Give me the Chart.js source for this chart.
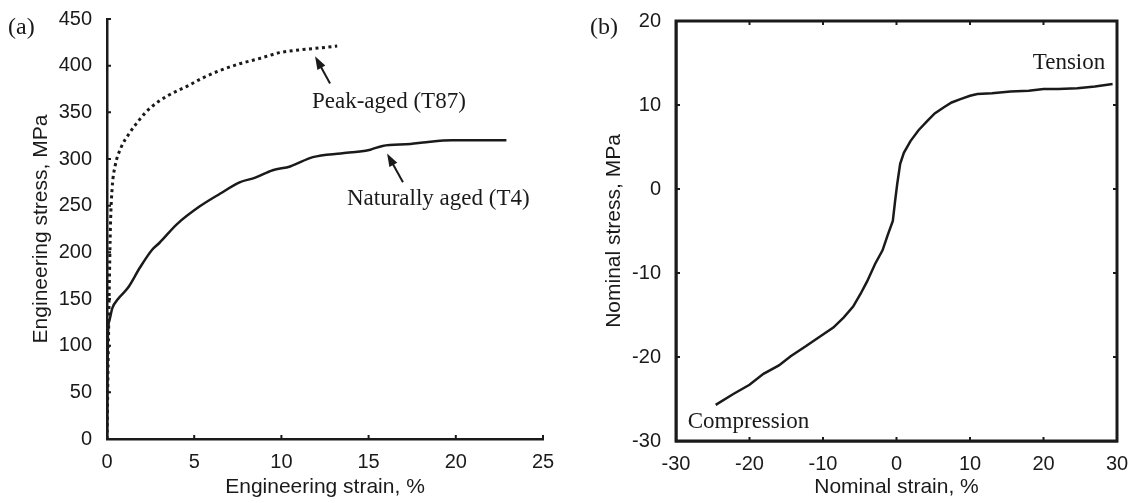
<!DOCTYPE html>
<html>
<head>
<meta charset="utf-8">
<script src="https://cdn.jsdelivr.net/npm/chart.js@4"></script>
<style>
  body { margin: 0; background: #fff; }
  #wrap { position: relative; width: 1134px; height: 503px; }
  canvas { position: absolute; top: 0; }
  .panel { position: absolute; font: 24px "Liberation Serif", serif; color: #1a1a1a; line-height: 1; }
</style>
</head>
<body>
<div id="wrap">
  <canvas id="chartA" width="567" height="503" style="left:0"></canvas>
  <canvas id="chartB" width="567" height="503" style="left:567px"></canvas>
  <div class="panel" style="left:8px;top:14px">(a)</div>
  <div class="panel" style="left:590px;top:14px">(b)</div>
</div>
<script>
// (a) engineering stress-strain
const t4Strain = [0, 0.05, 0.15, 0.3, 0.63, 1.2, 1.9, 2.6, 3.0, 4.0, 5.3, 6.5, 7.6, 8.5, 9.5, 10.5, 11.8, 13.4, 14.5, 15.1, 15.8, 17.4, 18.3, 19.8, 22.9];
const t4Stress = [0, 110, 128, 140, 150, 162, 184, 203, 210, 230, 249, 263, 275, 280, 288, 292, 302, 306, 308, 310, 314, 316, 318, 320, 320];
const t87Strain = [0, 0.12, 0.2, 0.3, 0.46, 0.8, 1.3, 1.9, 2.5, 3.5, 4.6, 5.5, 6.5, 7.6, 8.8, 9.9, 11.1, 12.2, 13.2];
const t87Stress = [0, 150, 230, 270, 292, 312, 328, 343, 355, 368, 378, 387, 395, 402, 408, 414, 417, 419, 421];
const aStrainTicks = [0, 5, 10, 15, 20, 25];
const aStressTicks = [0, 50, 100, 150, 200, 250, 300, 350, 400, 450];

// (b) nominal stress-strain
const nomStrain = [-24.6, -22.2, -20, -18.1, -16, -14.4, -12.3, -10.3, -8.6, -7.2, -5.9, -4.9, -4, -2.9, -1.9, -1.2, -0.5, -0.2, 0.1, 0.5, 1.0, 1.9, 3.0, 4.2, 5.2, 6.4, 7.5, 8.7, 10, 11, 13, 15.5, 18, 20, 22, 24.6, 27, 29.4];
const nomStress = [-25.7, -24.4, -23.3, -22.0, -21.0, -19.9, -18.7, -17.5, -16.5, -15.3, -14.0, -12.5, -11.0, -8.9, -7.3, -5.5, -3.8, -1.5, 0.6, 3.0, 4.3, 5.7, 7.0, 8.1, 9.0, 9.7, 10.3, 10.7, 11.1, 11.3, 11.4, 11.6, 11.7, 11.9, 11.9, 12.0, 12.2, 12.5];
const bStrainTicks = [-30, -20, -10, 0, 10, 20, 30];
const bStressTicks = [-30, -20, -10, 0, 10, 20];

// annotations in data units: [text, x, y, align]
const aNotes = [['Peak-aged (T87)', 11.75, 361, 'left'], ['Naturally aged (T4)', 13.76, 257, 'left']];
const aArrows = [[12.79, 381, 11.93, 410], [16.97, 275, 16.06, 306]];
const bNotes = [['Tension', 28.4, 15, 'right'], ['Compression', -28.4, -27.7, 'left']];

const ink = '#1a1a1a';
const sans = '"Liberation Sans", Arial, sans-serif';

function pts(xs, ys) {
    return xs.map((x, i) => ({ x: x, y: ys[i] }));
}

function fixAxis(size) {
    return function (scale) {
        if (scale.isHorizontal()) scale.height = size; else scale.width = size;
        scale.paddingTop = 0; scale.paddingBottom = 0;
        scale.paddingLeft = 0; scale.paddingRight = 0;
    };
}

function axis(min, max, step, title, size, titlePad, tickPad) {
    return {
        type: 'linear', min: min, max: max,
        afterFit: fixAxis(size),
        grid: { display: false },
        border: { display: true, color: ink, width: 2.5 },
        ticks: { stepSize: step, color: ink, padding: tickPad, font: { family: sans, size: 20 } },
        title: { display: true, text: title, color: ink, padding: titlePad, font: { family: sans, size: 21 } }
    };
}

// inward ticks, optional box, notes and arrows
const extras = {
    id: 'extras',
    afterDraw(chart, args, opts) {
        const ctx = chart.ctx;
        const a = chart.chartArea;
        const xs = chart.scales.x, ys = chart.scales.y;
        ctx.save();
        ctx.strokeStyle = ink;
        ctx.lineWidth = 2;
        if (opts.box) {
            ctx.lineWidth = 3;
            ctx.strokeRect(a.left, a.top, a.right - a.left, a.bottom - a.top);
            ctx.lineWidth = 2;
        }
        const len = 4;
        ctx.beginPath();
        xs.ticks.forEach(t => {
            const px = xs.getPixelForValue(t.value);
            ctx.moveTo(px, a.bottom); ctx.lineTo(px, a.bottom - len);
            if (opts.box) { ctx.moveTo(px, a.top); ctx.lineTo(px, a.top + len); }
        });
        ys.ticks.forEach(t => {
            const py = ys.getPixelForValue(t.value);
            ctx.moveTo(a.left, py); ctx.lineTo(a.left + len, py);
            if (opts.box) { ctx.moveTo(a.right, py); ctx.lineTo(a.right - len, py); }
        });
        ctx.stroke();

        ctx.fillStyle = ink;
        ctx.font = '23px "Liberation Serif", "Times New Roman", serif';
        ctx.textBaseline = 'middle';
        (opts.notes || []).forEach(n => {
            ctx.textAlign = n[3];
            ctx.fillText(n[0], xs.getPixelForValue(n[1]), ys.getPixelForValue(n[2]));
        });
        (opts.arrows || []).forEach(r => {
            const x0 = xs.getPixelForValue(r[0]), y0 = ys.getPixelForValue(r[1]);
            const x1 = xs.getPixelForValue(r[2]), y1 = ys.getPixelForValue(r[3]);
            const ang = Math.atan2(y1 - y0, x1 - x0);
            ctx.lineWidth = 2;
            ctx.beginPath();
            ctx.moveTo(x0, y0);
            ctx.lineTo(x1 - 8 * Math.cos(ang), y1 - 8 * Math.sin(ang));
            ctx.stroke();
            ctx.beginPath();
            ctx.moveTo(x1, y1);
            ctx.lineTo(x1 - 13 * Math.cos(ang) + 4.5 * Math.sin(ang), y1 - 13 * Math.sin(ang) - 4.5 * Math.cos(ang));
            ctx.lineTo(x1 - 13 * Math.cos(ang) - 4.5 * Math.sin(ang), y1 - 13 * Math.sin(ang) + 4.5 * Math.cos(ang));
            ctx.closePath();
            ctx.fill();
        });
        ctx.restore();
    }
};

new Chart(document.getElementById('chartA'), {
    type: 'scatter',
    data: {
        datasets: [{
            label: 'Naturally aged (T4)',
            data: pts(t4Strain, t4Stress),
            showLine: true, borderColor: ink, borderWidth: 2.5, pointRadius: 0,
            cubicInterpolationMode: 'monotone'
        }, {
            label: 'Peak-aged (T87)',
            data: pts(t87Strain, t87Stress),
            showLine: true, borderColor: ink, borderWidth: 3, borderDash: [3, 3.5], pointRadius: 0,
            cubicInterpolationMode: 'monotone'
        }]
    },
    options: {
        responsive: false,
        animation: false,
        layout: { padding: { left: 0, top: 19, right: 24, bottom: 0 } },
        scales: {
            x: axis(0, 25, 5, 'Engineering strain, %', 64, { top: 0, bottom: 3 }, 3),
            y: axis(0, 450, 50, 'Engineering stress, MPa', 107, { top: 29, bottom: 0 }, 7)
        },
        plugins: {
            legend: { display: false },
            tooltip: { enabled: false },
            extras: { box: false, notes: aNotes, arrows: aArrows }
        }
    },
    plugins: [extras]
});

new Chart(document.getElementById('chartB'), {
    type: 'scatter',
    data: {
        datasets: [{
            label: 'Nominal',
            data: pts(nomStrain, nomStress),
            showLine: true, borderColor: ink, borderWidth: 2.5, pointRadius: 0
        }]
    },
    options: {
        responsive: false,
        animation: false,
        layout: { padding: { left: 0, top: 21, right: 17, bottom: 0 } },
        scales: {
            x: axis(-30, 30, 10, 'Nominal strain, %', 62, { top: 0, bottom: 3 }, 3),
            y: axis(-30, 20, 10, 'Nominal stress, MPa', 109, { top: 35, bottom: 0 }, 7)
        },
        plugins: {
            legend: { display: false },
            tooltip: { enabled: false },
            extras: { box: true, notes: bNotes }
        }
    },
    plugins: [extras]
});
</script>
</body>
</html>
